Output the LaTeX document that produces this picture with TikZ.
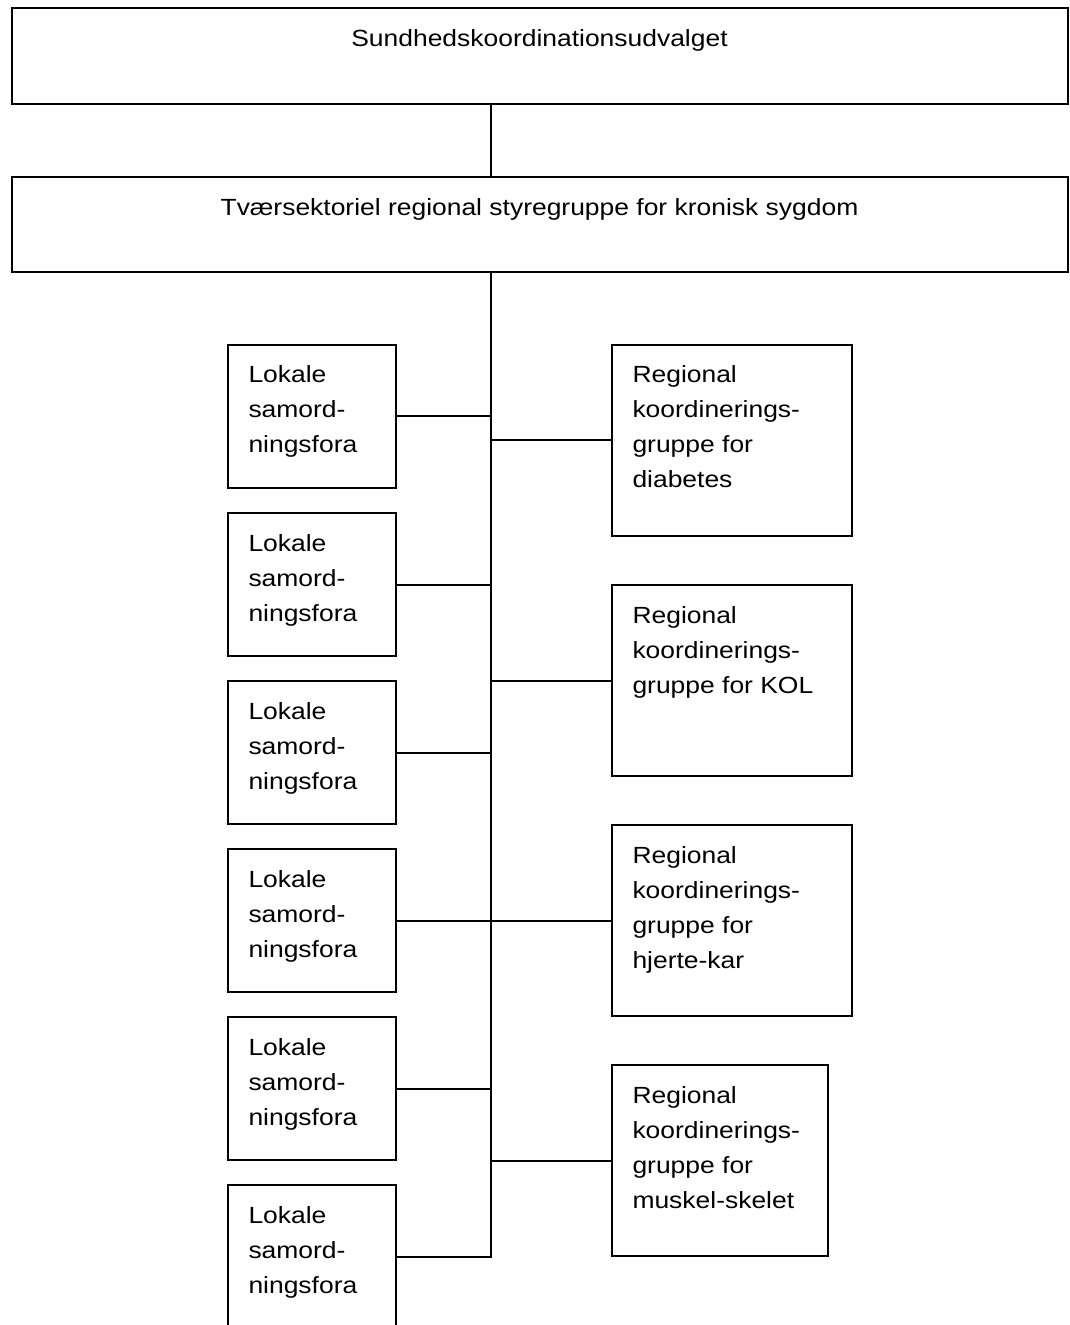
\documentclass[tikz,border=0pt]{standalone}
\usepackage{fontspec}
\setmainfont{Liberation Sans}[FakeStretch=1.13]
\usetikzlibrary{positioning}

% text block inside a box: width, height, text
\newcommand\boxtext[3]{\parbox[t][#2][t]{#1}{#3}}

\tikzset{
  unit/.style={draw, line width=1pt, anchor=north west, inner ysep=0pt, inner xsep=10.5pt,
    font=\fontsize{11.7pt}{17.5pt}\selectfont},
  link/.style={line width=1pt}
}

\begin{document}
\begin{tikzpicture}[x=0.5pt, y=-0.5pt]
  \useasboundingbox (0,0) rectangle (1069,1325);

  \def\first{\rule{0pt}{19pt}}

  %top boxes
  \node[unit] (udvalg) at (10.5,7) {\boxtext{507pt}{48pt}{\centering\rule{0pt}{19.5pt}Sundhedskoordinationsudvalget}};
  \node[unit] (styre) at (10.5,176) {\boxtext{507pt}{47.5pt}{\centering\rule{0pt}{19.5pt}Tværsektoriel regional styregruppe for kronisk sygdom}};

  \coordinate (trunk) at (491,1255);

  %lokale fora
  \foreach \i in {0,...,5}{
    \node[unit] (lok\i) at (226.5, 344+168*\i) {\boxtext{63pt}{71.5pt}{\raggedright\first Lokale\\samord-\\ningsfora}};
  }

  %regionale grupper
  \foreach \i/\w/\txt in {0/99pt/{gruppe for\\diabetes}, 1/99pt/{gruppe for KOL}, 2/99pt/{gruppe for\\hjerte-kar}, 3/87pt/{gruppe for\\muskel-skelet}}{
    \node[unit] (reg\i) at (610.5, 344+240*\i) {\boxtext{\w}{95.5pt}{\raggedright\first Regional\\koordinerings-\\\txt}};
  }

  %lines
  \draw[link] (udvalg.south -| trunk) -- (styre.north -| trunk);
  \draw[link] (styre.south -| trunk) -- (lok5.east -| trunk) -- (lok5.east);
  \foreach \i in {0,...,4}{
    \draw[link] (lok\i.east) -- (lok\i.east -| trunk);
  }
  \foreach \i in {0,...,3}{
    \draw[link] (reg\i.west) -- (reg\i.west -| trunk);
  }

\end{tikzpicture}
\end{document}
